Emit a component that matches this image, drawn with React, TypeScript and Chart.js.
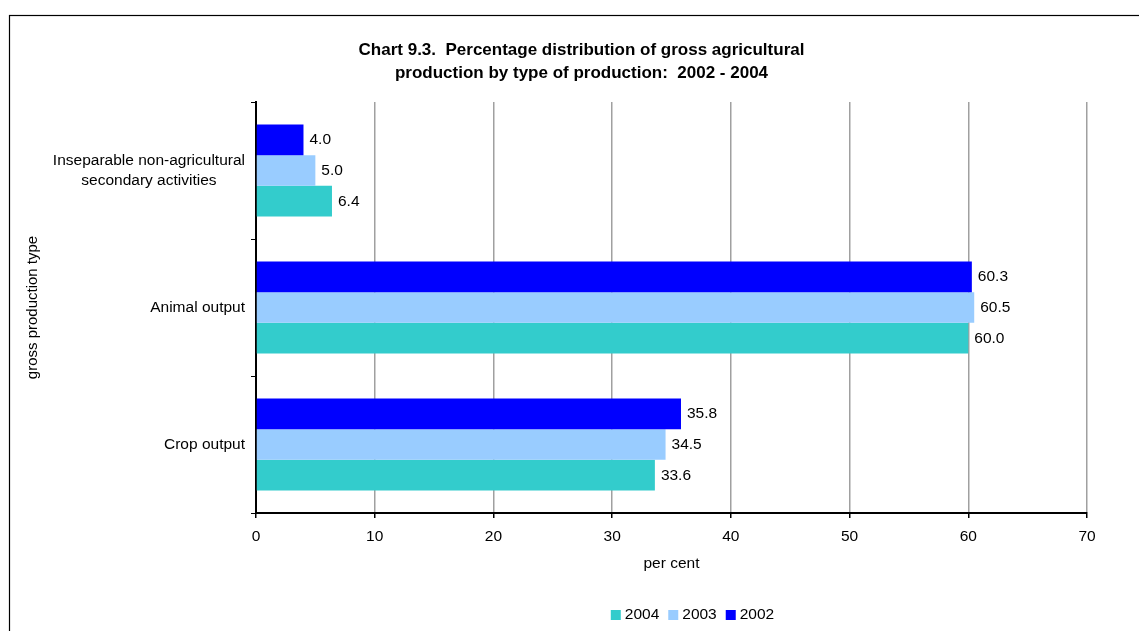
import { useEffect, useRef } from "react";
import { Chart, registerables } from "chart.js";

Chart.register(...registerables);

const FONT = '"Liberation Sans", Arial, sans-serif';
const TEXT_SIZE = 15.5;

const titleLines = [
  "Chart 9.3.  Percentage distribution of gross agricultural",
  "production by type of production:  2002 - 2004",
];
const categories: string[][] = [
  ["Inseparable non-agricultural", "secondary activities"],
  ["Animal output"],
  ["Crop output"],
];
const seriesNames = ["2002", "2003", "2004"];
const values2002 = [4.0, 60.3, 35.8];
const values2003 = [5.0, 60.5, 34.5];
const values2004 = [6.4, 60.0, 33.6];
const seriesColors = ["#0000FF", "#99CCFF", "#33CCCC"];
const xMin = 0;
const xMax = 70;
const xStep = 10;
const xTitle = "per cent";
const yTitle = "gross production type";

const framePlugin = {
  id: "frame",
  beforeDraw(chart: any) {
    const ctx = chart.ctx;
    ctx.save();
    ctx.strokeStyle = "#000";
    ctx.lineWidth = 1.2;
    ctx.strokeRect(9.5, 15.5, 3000, 3000);
    ctx.restore();
  },
};

const valueLabelPlugin = {
  id: "valueLabels",
  afterDatasetsDraw(chart: any) {
    const ctx = chart.ctx;
    ctx.save();
    ctx.font = `${TEXT_SIZE}px ${FONT}`;
    ctx.fillStyle = "#000";
    ctx.textAlign = "left";
    ctx.textBaseline = "middle";
    chart.data.datasets.forEach((ds: any, di: number) => {
      const meta = chart.getDatasetMeta(di);
      meta.data.forEach((bar: any, i: number) => {
        ctx.fillText(Number(ds.data[i]).toFixed(1), bar.x + 6, bar.y);
      });
    });
    ctx.restore();
  },
};

const categoryLabelPlugin = {
  id: "categoryLabels",
  afterDraw(chart: any) {
    const ctx = chart.ctx;
    const y = chart.scales.y;
    ctx.save();
    ctx.font = `${TEXT_SIZE}px ${FONT}`;
    ctx.fillStyle = "#000";
    ctx.textAlign = "center";
    ctx.textBaseline = "middle";
    const right = y.right - 11;
    const lh = 19.5;
    categories.forEach((lines, i) => {
      const cy = y.getPixelForValue(i);
      const widest = Math.max(...lines.map((l) => ctx.measureText(l).width));
      const cx = right - widest / 2;
      lines.forEach((l, j) => {
        ctx.fillText(l, cx, cy + (j - (lines.length - 1) / 2) * lh);
      });
    });
    ctx.restore();
  },
};

const legendPlugin = {
  id: "customLegend",
  afterDraw(chart: any) {
    const ctx = chart.ctx;
    ctx.save();
    ctx.font = `${TEXT_SIZE}px ${FONT}`;
    ctx.textAlign = "left";
    ctx.textBaseline = "middle";
    const items = chart.data.datasets
      .map((ds: any) => ({ text: ds.label, color: ds.backgroundColor }))
      .reverse();
    const box = 10;
    const gap = 4;
    const spacing = 9;
    const widths = items.map((it: any) => box + gap + ctx.measureText(it.text).width);
    const total =
      widths.reduce((a: number, b: number) => a + b, 0) + spacing * (items.length - 1);
    const centerX = 692.5;
    const cy = 615;
    let x = centerX - total / 2;
    items.forEach((it: any, i: number) => {
      ctx.fillStyle = it.color;
      ctx.fillRect(x, cy - box / 2, box, box);
      ctx.fillStyle = "#000";
      ctx.fillText(it.text, x + box + gap, cy);
      x += widths[i] + spacing;
    });
    ctx.restore();
  },
};

export default function App() {
  const ref = useRef<HTMLCanvasElement | null>(null);

  useEffect(() => {
    if (!ref.current) return;
    const values = [values2002, values2003, values2004];
    const chart = new Chart(ref.current, {
      type: "bar",
      data: {
        labels: categories.map((c) => c.join(" ")),
        datasets: seriesNames.map((name, i) => ({
          label: name,
          data: values[i],
          backgroundColor: seriesColors[i],
          borderWidth: 0,
          barPercentage: 1,
          categoryPercentage: 0.673,
        })),
      },
      options: {
        indexAxis: "y",
        animation: false,
        responsive: true,
        maintainAspectRatio: false,
        font: { family: FONT, size: TEXT_SIZE },
        layout: { padding: { top: 20, left: 24, right: 0, bottom: 34 } },
        plugins: {
          tooltip: { enabled: false },
          legend: { display: false },
          title: {
            display: true,
            text: titleLines,
            color: "#000",
            font: { family: FONT, size: 17, weight: "bold", lineHeight: 23.4 / 17 },
            padding: { top: 18.3, bottom: 16.9 },
          },
        },
        scales: {
          x: {
            type: "linear",
            min: xMin,
            max: xMax,
            ticks: {
              stepSize: xStep,
              padding: 9,
              color: "#000",
              font: { family: FONT, size: TEXT_SIZE },
            },
            grid: {
              color: "#a0a0a0",
              lineWidth: 1.5,
              tickColor: "#000",
              tickLength: 5,
              drawTicks: true,
            },
            border: { color: "#000", width: 2 },
            title: {
              display: true,
              text: xTitle,
              color: "#000",
              font: { family: FONT, size: TEXT_SIZE },
              padding: { top: 0, bottom: 24 },
            },
            afterFit: (s: any) => {
              s.height = 84;
            },
          },
          y: {
            type: "category",
            offset: true,
            ticks: { display: false },
            grid: {
              drawOnChartArea: false,
              drawTicks: true,
              tickLength: 5,
              color: "#000",
              tickColor: "#000",
              offset: true,
            },
            border: { color: "#000", width: 2 },
            title: {
              display: true,
              text: yTitle,
              color: "#000",
              font: { family: FONT, size: 15 },
              padding: { top: 0, bottom: 0 },
            },
            afterFit: (s: any) => {
              s.width = 232;
            },
          },
          y2: {
            type: "linear",
            position: "right",
            display: true,
            grid: { display: false, drawTicks: false },
            ticks: { display: false },
            border: { display: false },
            afterFit: (s: any) => {
              s.width = 52;
            },
          },
        },
      },
      plugins: [framePlugin, valueLabelPlugin, categoryLabelPlugin, legendPlugin],
    } as any);
    return () => chart.destroy();
  }, []);

  return (
    <div style={{ position: "fixed", left: 0, top: 0, width: 1139, height: 631 }}>
      <canvas ref={ref} />
    </div>
  );
}
